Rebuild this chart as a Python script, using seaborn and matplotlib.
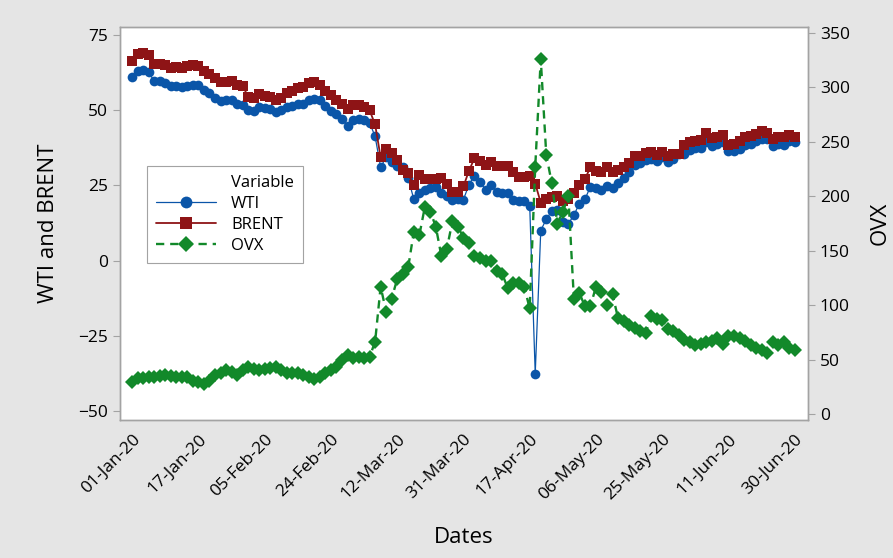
import numpy as np
import matplotlib
matplotlib.use("Agg")
import matplotlib.pyplot as plt
import seaborn as sns
from matplotlib.lines import Line2D

# date labels shown every 12th trading day
tick_labels = ["01-Jan-20", "17-Jan-20", "05-Feb-20", "24-Feb-20", "12-Mar-20",
               "31-Mar-20", "17-Apr-20", "06-May-20", "25-May-20", "11-Jun-20",
               "30-Jun-20"]

# daily prices (USD/bbl)
wti = [61.2, 63.0, 63.3, 62.7, 59.6, 59.6, 59.0, 58.1, 58.2, 57.8,
       58.0, 58.5, 58.4, 56.7, 55.6, 54.2, 53.1, 53.5, 53.3, 52.2,
       51.6, 50.1, 49.7, 51.0, 50.9, 50.3, 49.6, 50.0, 51.2, 51.4,
       52.1, 52.1, 53.3, 53.8, 53.4, 51.4, 49.9, 48.7, 47.1, 44.8,
       46.8, 47.2, 46.8, 45.9, 41.3, 31.1, 34.4, 32.9, 31.5, 31.0,
       27.5, 20.4, 22.5, 23.4, 24.0, 24.5, 22.6, 21.5, 20.1, 20.5,
       20.3, 25.3, 28.3, 26.1, 23.6, 25.1, 22.8, 22.6, 22.4, 20.1,
       19.9, 19.9, 18.3, -37.6, 10.0, 13.8, 16.5, 17.0, 12.8, 12.3,
       15.1, 19.0, 20.4, 24.6, 24.0, 23.6, 24.7, 24.1, 25.8, 27.6,
       29.4, 31.8, 32.5, 33.5, 33.9, 33.3, 34.4, 32.8, 33.7, 35.5,
       35.4, 36.8, 37.3, 37.4, 39.6, 38.2, 38.9, 39.6, 36.3, 36.3,
       37.1, 38.4, 38.8, 39.8, 40.5, 40.4, 38.0, 38.7, 38.5, 39.7,
       39.3]

brent = [66.3, 68.6, 68.9, 68.3, 65.4, 65.4, 65.0, 64.2, 64.5, 64.0,
         64.6, 64.9, 64.6, 63.2, 62.0, 60.7, 59.3, 59.5, 59.8, 58.3,
         58.2, 54.5, 54.0, 55.3, 54.9, 54.5, 53.3, 54.0, 55.8, 56.3,
         57.3, 57.8, 59.1, 59.3, 58.5, 56.3, 55.0, 53.4, 52.2, 50.5,
         51.9, 51.9, 51.1, 50.0, 45.3, 34.4, 37.2, 35.8, 33.5, 30.1,
         29.0, 25.0, 28.5, 27.0, 27.0, 27.2, 27.4, 25.5, 22.8, 22.7,
         24.7, 29.9, 34.1, 33.1, 31.9, 32.8, 31.5, 31.5, 31.5, 29.6,
         27.7, 27.8, 28.1, 25.6, 19.3, 20.4, 21.3, 21.4, 20.0, 20.5,
         22.5, 25.3, 27.2, 31.0, 29.7, 29.5, 31.0, 29.6, 30.0, 31.1,
         32.5, 34.8, 34.7, 35.8, 36.1, 35.1, 36.2, 34.7, 35.3, 35.3,
         38.3, 39.6, 39.8, 40.0, 42.3, 40.8, 41.2, 41.7, 38.6, 38.7,
         39.7, 41.0, 41.5, 42.2, 43.1, 42.6, 40.3, 41.1, 41.0, 41.7,
         41.2]

# oil volatility index
ovx = [29.7, 32.8, 33.5, 34.3, 34.3, 34.8, 35.8, 34.5, 33.7, 34.0,
       33.7, 30.5, 29.7, 27.6, 30.5, 35.8, 38.0, 40.4, 38.5, 35.8,
       40.4, 43.5, 41.5, 40.4, 41.5, 42.0, 43.5, 40.5, 38.0, 37.6,
       37.6, 36.0, 34.3, 31.8, 34.0, 38.0, 40.4, 43.5, 49.6, 54.2,
       51.2, 52.0, 51.5, 52.5, 66.4, 117, 94, 106, 124, 129,
       135, 167, 164, 190, 186, 172, 145, 152, 177, 172,
       162, 157, 145, 143, 141, 141, 131, 129, 116, 120,
       120, 117, 97, 227, 326, 238, 212, 175, 186, 200,
       106, 111, 99, 99, 117, 112, 100, 110, 88, 85,
       82, 79, 76, 74, 90, 87, 86, 78, 76, 73,
       68, 66, 63, 64, 66, 67, 70, 64, 72, 72,
       70, 67, 63, 61, 59, 56, 66, 63, 66, 61,
       59]

obs = np.arange(len(wti))
tick_pos = obs[::12]

c_wti = "#0a55a8"
c_brent = "#8e1416"
c_ovx = "#12892a"
grey = "#a3a3a3"

sns.set_style("white")
plt.rcParams["font.family"] = ["Open Sans", "DejaVu Sans"]
plt.rcParams["text.color"] = "black"
plt.rcParams["axes.labelcolor"] = "black"

fig = plt.figure(figsize=(8.93, 5.58), dpi=100, facecolor="#e5e5e5")
ax = fig.add_axes([0.1344, 0.2473, 0.7704, 0.7043])
ax.set_facecolor("white")
ax2 = ax.twinx()

sns.lineplot(x=obs, y=wti, ax=ax, color=c_wti, linewidth=0.9, marker="o",
             markersize=7, markeredgewidth=0, legend=False)
sns.lineplot(x=obs, y=brent, ax=ax, color=c_brent, linewidth=1.3, marker="s",
             markersize=7, markeredgewidth=0, legend=False)
sns.lineplot(x=obs, y=ovx, ax=ax2, color=c_ovx, linewidth=1.7, marker="D",
             markersize=7, markeredgewidth=0, linestyle=(0, (3.5, 2.5)),
             legend=False)

ax.set_xlim(-2.2, 122.4)
ax.set_ylim(-53, 77.7)
ax2.set_ylim(-5.5, 355.5)
ax.set_yticks([-50, -25, 0, 25, 50, 75])
ax2.set_yticks(range(0, 351, 50))
ax.set_xticks(tick_pos)
ax.set_xticklabels(tick_labels, rotation=45, ha="right", rotation_mode="anchor")

for a in (ax, ax2):
    for s in a.spines.values():
        s.set_color(grey)
        s.set_linewidth(1.0)
    a.tick_params(direction="out", length=5, width=0.8, color=grey,
                  labelsize=12.5, labelcolor="black")
ax.tick_params(axis="x", pad=3)

ax.set_xlabel("Dates", fontsize=16, labelpad=17)
ax.set_ylabel("WTI and BRENT", fontsize=16, labelpad=14)
ax2.set_ylabel("OVX", fontsize=16, rotation=90, labelpad=14)

handles = [
    Line2D([], [], linestyle="none"),
    Line2D([], [], color=c_wti, linewidth=0.9, marker="o", markersize=8.5,
           markeredgewidth=0),
    Line2D([], [], color=c_brent, linewidth=1.3, marker="s", markersize=8.5,
           markeredgewidth=0),
    Line2D([], [], color=c_ovx, linewidth=1.7, marker="D", markersize=8.5,
           markeredgewidth=0, linestyle=(0, (3.5, 2.5))),
]
leg = fig.legend(handles, ["Variable", "WTI", "BRENT", "OVX"],
                 loc="upper left", bbox_to_anchor=(147 / 893, 1 - 166 / 558),
                 fontsize=12, handlelength=3.6, handletextpad=0.9,
                 labelspacing=0.3, borderpad=0.55, fancybox=False,
                 framealpha=1, edgecolor=grey, borderaxespad=0)
leg.get_frame().set_linewidth(0.8)

fig.savefig("out.png", dpi=100, facecolor=fig.get_facecolor())
